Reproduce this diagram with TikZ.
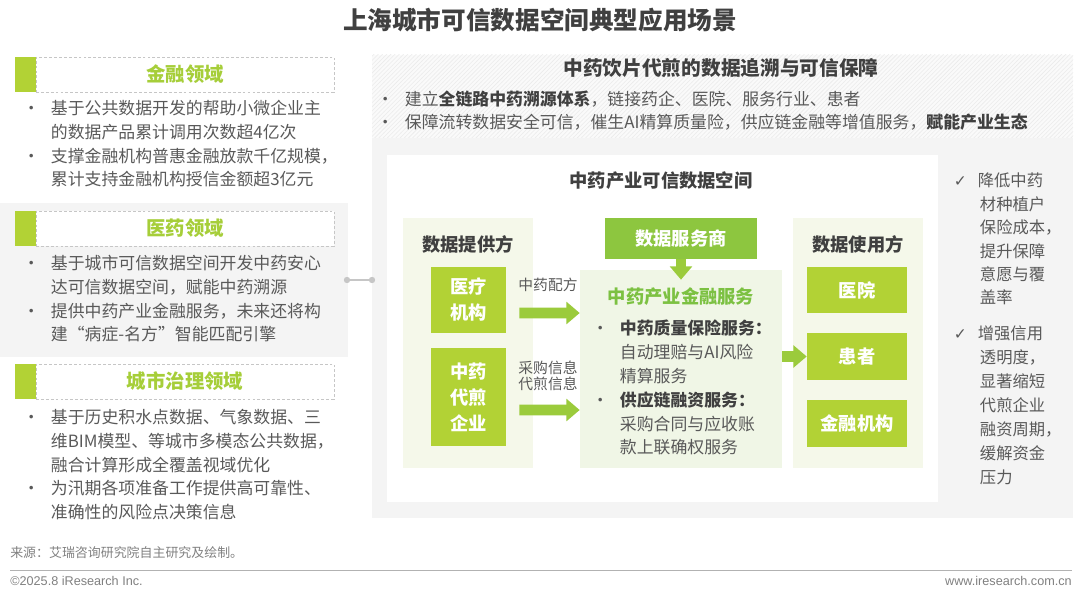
\documentclass[tikz,border=0pt]{standalone}
\usepackage{fontspec}
\setmainfont{Noto Sans CJK SC}
\newfontfamily\latinfont{Liberation Sans}
\newfontfamily\symbfont{DejaVu Sans}
\usepackage{xcolor}
\usepackage{tikz}
\usetikzlibrary{arrows.meta,positioning,calc,patterns}
\definecolor{vertclair}{HTML}{B2D235}
\definecolor{vertfonce}{HTML}{8DC63F}
\definecolor{vertentete}{HTML}{A6CE39}
\definecolor{vertservice}{HTML}{7CC142}
\definecolor{vertfleche}{HTML}{9BCB3C}
\definecolor{fondvert}{HTML}{F5F8EA}
\definecolor{fondfin}{HTML}{F0F6E6}
\definecolor{fondgris}{HTML}{F4F4F4}
\definecolor{gristexte}{HTML}{595959}
\definecolor{grisfonce}{HTML}{404040}
\newcommand{\puce}{\makebox[14pt][l]{\makebox[0pt]{•}}}
\newcommand{\retrait}{\hspace*{14pt}}
\newcommand{\coche}{\makebox[12.5pt][l]{\makebox[0pt]{\symbfont\fontsize{11}{11}\selectfont ✓}}}
\tikzset{
  entete/.style={rectangle, draw=gray!45, dashed, dash pattern=on 2pt off 1.5pt, line width=0.6pt,
                 fill=white, text=vertentete, font=\fontsize{13.8}{16}\selectfont\bfseries,
                 minimum width=7.45cm, minimum height=0.875cm, inner sep=0pt},
  puces/.style={anchor=north west, inner sep=0pt, align=left, text=gristexte,
                font=\fontsize{12}{16.9}\selectfont},
  vbox/.style={rectangle, fill=#1, text=white, align=center, inner sep=0pt,
               font=\fontsize{13}{18.5}\selectfont\bfseries},
  fond/.style={rectangle, fill=#1, inner sep=0pt},
  soustitre/.style={text=grisfonce, font=\fontsize{13}{15}\selectfont\bfseries},
  etiq/.style={text=gristexte, align=center, font=\fontsize{10.5}{11.8}\selectfont},
  fleche/.style={-{Triangle[width=15.5pt,length=9.5pt]}, line width=7.5pt, draw=vertfleche},
  point/.style={circle, fill=gray!45, inner sep=0pt, minimum size=0.16cm},
}

\begin{document}
\begin{tikzpicture}[x=0.025cm, y=-0.025cm]
  \useasboundingbox (0,0) rectangle (1080,597);
  \node[text=grisfonce, font=\fontsize{17.5}{20}\selectfont\bfseries] (titre) at (540,20) {上海城市可信数据空间典型应用场景};

  % panneau gauche
  \fill[fondgris] (0,203) rectangle (348,357);
  \node[entete] (finance1) at (185,74.5) {金融领域};
  \node[entete] (sante1) at (185,228.5) {医药领域};
  \node[entete] (ville1) at (185,381.5) {城市治理领域};
  \fill[vertclair] (15,57) rectangle (36,92);
  \fill[vertclair] (15,211) rectangle (36,246);
  \fill[vertclair] (15,364) rectangle (36,399);
  \node[puces] (txtfin) at (31,100) {\puce 基于公共数据开发的帮助小微企业主\\\retrait 的数据产品累计调用次数超4亿次\\\puce 支撑金融机构普惠金融放款千亿规模，\\\retrait 累计支持金融机构授信金额超3亿元};
  \node[puces] (txtsante) at (31,255) {\puce 基于城市可信数据空间开发中药安心\\\retrait 达可信数据空间，赋能中药溯源\\\puce 提供中药产业金融服务，未来还将构\\\retrait 建“病症-名方”智能匹配引擎};
  \node[puces] (txtville) at (31,409) {\puce 基于历史积水点数据、气象数据、三\\\retrait 维BIM模型、等城市多模态公共数据，\\\retrait 融合计算形成全覆盖视域优化\\\puce 为汛期各项准备工作提供高可靠性、\\\retrait 准确性的风险点决策信息};

  % lien
  \node[point] (p1) at (347,280) {};

  % panneau droit
  \fill[fondgris] (372,138) rectangle (1073,518);
  \fill[white!55!fondgris] (372,55) rectangle (1073,138);
  \fill[pattern=north east lines, pattern color=gray!16] (372,55) rectangle (1073,138);
  \node[point] (p2) at (372,280) {};
  \draw[gray!45, line width=1.2pt] (p1) -- (p2);
  \node[text=grisfonce, font=\fontsize{14}{16}\selectfont\bfseries] (cas) at (721,68) {中药饮片代煎的数据追溯与可信保障};
  \node[puces, font=\fontsize{12}{16.3}\selectfont] (txtcas) at (385,91) {\puce 建立\textbf{\textcolor{grisfonce}{全链路中药溯源体系}}，链接药企、医院、服务行业、患者\\\puce 保障流转数据安全可信，催生AI精算质量险，供应链金融等增值服务，\textbf{\textcolor{grisfonce}{赋能产业生态}}};
  \fill[white] (387,155) rectangle (938,502);
  \node[soustitre] (espace) at (661,181) {中药产业可信数据空间};

  % fournisseurs
  \node[fond=fondvert, minimum width=3.25cm, minimum height=6.25cm] (fourn) at (468,343) {};
  \node[soustitre] (fourntitre) at (468,244) {数据提供方};
  \node[vbox=vertclair, minimum width=1.875cm, minimum height=1.65cm] (medical) at (468.5,300) {医疗\\机构};
  \node[vbox=vertclair, minimum width=1.875cm, minimum height=2.425cm] (decoction) at (468.5,397) {中药\\代煎\\企业};

  % services financiers
  \node[fond=fondfin, minimum width=5.05cm, minimum height=4.95cm] (finserv) at (681,369) {};
  \node[vbox=vertfonce, minimum width=3.8cm, minimum height=1.025cm] (service) at (681,238.5) {数据服务商};
  \node[text=vertservice, font=\fontsize{13}{15}\selectfont\bfseries] (fintitre) at (681,297) {中药产业金融服务};
  \node[puces] (txtserv) at (600,320) {\puce\textbf{\textcolor{grisfonce}{中药质量保险服务：}}\\\retrait 自动理赔与AI风险\\\retrait 精算服务\\\puce\textbf{\textcolor{grisfonce}{供应链融资服务：}}\\\retrait 采购合同与应收账\\\retrait 款上联确权服务};

  % usagers
  \node[fond=fondvert, minimum width=3.25cm, minimum height=6.25cm] (usag) at (858,343) {};
  \node[soustitre] (usagtitre) at (858,244) {数据使用方};
  \node[vbox=vertclair, minimum width=2.5cm, minimum height=1.15cm] (hopital) at (857,290) {医院};
  \node[vbox=vertclair, minimum width=2.5cm, minimum height=1.175cm] (patient) at (857,356.5) {患者};
  \node[vbox=vertclair, minimum width=2.5cm, minimum height=1.175cm] (banque) at (857,423.5) {金融机构};

  % fleches
  \node[etiq] (lab1) at (548,285) {中药配方};
  \node[etiq] (lab2) at (548,376) {采购信息\\代煎信息};
  \draw[fleche] ([shift={(13,13)}]medical.east) -- ([yshift=-0.325cm]medical.east -| finserv.west);
  \draw[fleche] ([shift={(13,13)}]decoction.east) -- ([yshift=-0.325cm]decoction.east -| finserv.west);
  \draw[fleche] (service.south) -- ([yshift=-0.25cm]service.south |- finserv.north);
  \draw[fleche] (finserv.east |- patient.west) -- (patient.west);

  % effets
  \node[puces, font=\fontsize{11.6}{16.6}\selectfont] (eff1) at (960,173) {\coche 降低中药\\\retrait 材种植户\\\retrait 保险成本，\\\retrait 提升保障\\\retrait 意愿与覆\\\retrait 盖率};
  \node[puces, font=\fontsize{11.6}{17.1}\selectfont] (eff2) at (960,325) {\coche 增强信用\\\retrait 透明度，\\\retrait 显著缩短\\\retrait 代煎企业\\\retrait 融资周期，\\\retrait 缓解资金\\\retrait 压力};

  % pied
  \node[anchor=west, inner sep=0pt, text=gray, font=\fontsize{9.2}{11}\selectfont] (source) at (10,553) {来源：艾瑞咨询研究院自主研究及绘制。};
  \coordinate (g) at (10,570);
  \coordinate (d) at (1072,570);
  \draw[gray!60, line width=0.6pt] (g) -- (d);
  \node[anchor=west, inner sep=0pt, text=gray, font=\latinfont\fontsize{9}{11}\selectfont] (copy) at (10,581) {©2025.8 iResearch Inc.};
  \node[anchor=east, inner sep=0pt, text=gray, font=\latinfont\fontsize{9}{11}\selectfont] (site) at (1072,581) {www.iresearch.com.cn};
\end{tikzpicture}
\end{document}
